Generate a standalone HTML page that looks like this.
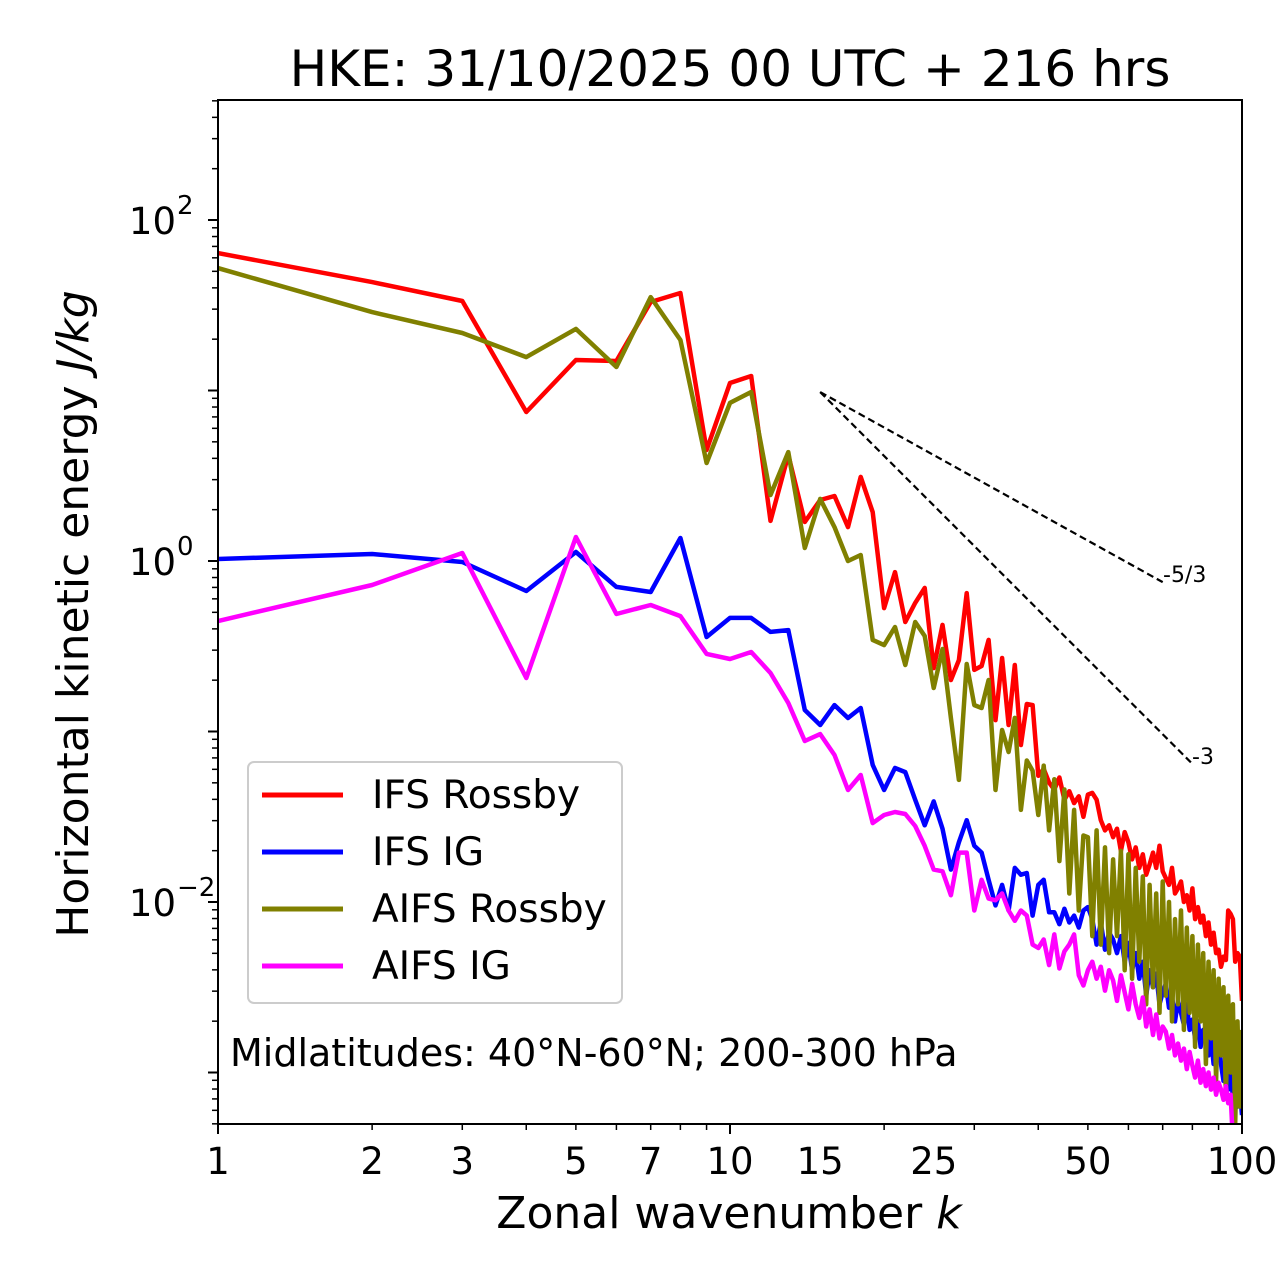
<!DOCTYPE html>
<html><head><meta charset="utf-8"><style>
body{margin:0;background:#fff;}
svg{display:block;font-family:"DejaVu Sans","Liberation Sans",sans-serif;}
</style></head><body>
<svg id="chart" width="1280" height="1288" viewBox="0 0 1280 1288" xmlns="http://www.w3.org/2000/svg">
<defs><clipPath id="plotclip"><rect x="218" y="100" width="1024" height="1024"/></clipPath></defs>
<rect width="1280" height="1288" fill="#fff"/>
<text x="730" y="86" font-size="50" text-anchor="middle">HKE: 31/10/2025 00 UTC + 216 hrs</text>
<g id="series" clip-path="url(#plotclip)"></g>
<g id="axes"></g>
<rect x="218" y="100" width="1024" height="1024" fill="none" stroke="#000" stroke-width="2"/>
<text transform="translate(88,614) rotate(-90)" font-size="44" text-anchor="middle">Horizontal kinetic energy <tspan font-style="italic">J/kg</tspan></text>
<text x="729" y="1228" font-size="44" text-anchor="middle">Zonal wavenumber <tspan font-style="italic">k</tspan></text>
<text x="1163" y="582" font-size="22">-5/3</text>
<text x="1192" y="764" font-size="22">-3</text>
<text x="230" y="1066" font-size="38">Midlatitudes: 40°N-60°N; 200-300 hPa</text>
<g>
<rect x="248" y="762" width="374" height="241" rx="6" fill="#fff" fill-opacity="0.8" stroke="#ccc" stroke-width="2"/>
<line x1="262" y1="795" x2="343" y2="795" stroke="#ff0000" stroke-width="5"/>
<text x="372" y="808" font-size="39">IFS Rossby</text>
<line x1="262" y1="852" x2="343" y2="852" stroke="#0000ff" stroke-width="5"/>
<text x="372" y="865" font-size="39">IFS IG</text>
<line x1="262" y1="909" x2="343" y2="909" stroke="#808000" stroke-width="5"/>
<text x="372" y="922" font-size="39">AIFS Rossby</text>
<line x1="262" y1="966" x2="343" y2="966" stroke="#ff00ff" stroke-width="5"/>
<text x="372" y="979" font-size="39">AIFS IG</text>
</g>
</svg>
<script>
// log10 of HKE (J/kg), wavenumbers k = 1..100
const ifsRossby = [1.806,1.636,1.525,0.874,1.179,1.173,1.519,1.572,0.651,1.044,1.085,0.235,0.622,0.229,0.358,0.381,0.199,0.493,0.287,-0.276,-0.065,-0.358,-0.246,-0.158,-0.628,-0.375,-0.698,-0.581,-0.188,-0.639,-0.616,-0.463,-0.933,-0.569,-0.962,-0.610,-1.079,-0.839,-0.845,-1.26,-1.22,-1.30,-1.34,-1.27,-1.40,-1.35,-1.42,-1.38,-1.50,-1.37,-1.36,-1.40,-1.52,-1.58,-1.55,-1.62,-1.57,-1.70,-1.59,-1.65,-1.75,-1.68,-1.80,-1.72,-1.84,-1.78,-1.71,-1.80,-1.67,-1.82,-1.86,-1.90,-1.80,-1.95,-1.92,-1.88,-2.00,-1.96,-2.05,-1.92,-2.10,-2.03,-2.12,-2.08,-2.20,-2.12,-2.25,-2.18,-2.30,-2.28,-2.38,-2.32,-2.34,-2.05,-2.07,-2.10,-2.35,-2.30,-2.32,-2.58];
const ifsIG = [0.012,0.041,-0.006,-0.176,0.053,-0.152,-0.182,0.135,-0.446,-0.334,-0.334,-0.416,-0.405,-0.874,-0.962,-0.845,-0.921,-0.862,-1.196,-1.343,-1.214,-1.238,-1.40,-1.55,-1.41,-1.57,-1.81,-1.65,-1.52,-1.67,-1.71,-1.87,-2.02,-1.90,-2.05,-1.80,-1.84,-1.83,-2.08,-1.90,-1.87,-2.06,-2.06,-2.13,-2.04,-2.12,-2.08,-2.15,-2.05,-2.03,-2.10,-2.25,-2.12,-2.28,-2.18,-2.22,-2.30,-2.20,-2.35,-2.24,-2.40,-2.30,-2.45,-2.35,-2.55,-2.40,-2.50,-2.42,-2.60,-2.53,-2.48,-2.62,-2.55,-2.70,-2.58,-2.65,-2.72,-2.60,-2.75,-2.69,-2.80,-2.70,-2.85,-2.75,-2.78,-2.90,-2.80,-2.95,-2.85,-2.81,-2.95,-3.05,-2.90,-3.10,-2.98,-3.15,-3.05,-3.20,-3.10,-3.25];
const aifsRossby = [1.718,1.460,1.337,1.196,1.361,1.138,1.548,1.296,0.575,0.927,0.991,0.387,0.639,0.076,0.364,0.199,0.0,0.035,-0.463,-0.493,-0.387,-0.610,-0.358,-0.440,-0.745,-0.516,-0.921,-1.284,-0.604,-0.845,-0.862,-0.698,-1.343,-0.991,-1.12,-0.92,-1.46,-1.17,-1.23,-1.49,-1.20,-1.58,-1.28,-1.76,-1.34,-1.95,-1.46,-2.05,-1.61,-1.62,-2.20,-1.58,-2.25,-1.68,-2.30,-1.75,-2.20,-1.70,-2.40,-1.72,-2.45,-1.80,-2.35,-1.85,-2.60,-1.90,-2.50,-1.95,-2.65,-1.88,-2.55,-2.00,-2.70,-2.10,-2.60,-2.05,-2.75,-2.15,-2.65,-2.20,-2.85,-2.25,-2.70,-2.30,-2.95,-2.35,-2.80,-2.40,-3.05,-2.45,-2.90,-2.50,-3.15,-2.55,-3.00,-2.60,-3.30,-2.70,-3.20,-2.75];
const aifsIG = [-0.352,-0.141,0.047,-0.686,0.141,-0.311,-0.258,-0.323,-0.545,-0.575,-0.534,-0.657,-0.833,-1.056,-1.015,-1.138,-1.343,-1.255,-1.537,-1.490,-1.472,-1.484,-1.554,-1.671,-1.81,-1.82,-1.96,-1.71,-1.71,-2.05,-1.87,-1.98,-1.99,-1.95,-2.05,-2.11,-2.05,-2.08,-2.25,-2.27,-2.22,-2.37,-2.19,-2.39,-2.29,-2.25,-2.19,-2.43,-2.49,-2.40,-2.35,-2.45,-2.38,-2.52,-2.40,-2.46,-2.58,-2.43,-2.53,-2.63,-2.48,-2.60,-2.68,-2.56,-2.73,-2.63,-2.78,-2.66,-2.80,-2.73,-2.76,-2.86,-2.78,-2.90,-2.83,-2.93,-2.86,-2.98,-2.88,-2.96,-3.03,-2.93,-3.06,-2.98,-3.08,-3.00,-3.10,-3.03,-3.13,-3.06,-3.10,-3.16,-3.08,-3.18,-3.13,-3.40,-3.60,-3.70,-3.80,-3.90];
const xTickLabels = [1,2,3,5,7,10,15,25,50,100];
const yMajorExps = [-2,0,2];
const refStartK = 15, refStartLog = 0.991;
const refSlopes = [-5/3,-3];
const refEndK = [70,80];

const X0=218,X1=1242,Y0=100,Y1=1124;
const xScale = k => X0 + (X1-X0)*Math.log10(k)/2;
const LTOP=2+120/170.5, LBOT=-2-222/170.5;
const yScale = L => Y0 + (LTOP-L)/(LTOP-LBOT)*(Y1-Y0);
const NS="http://www.w3.org/2000/svg";
const series=document.getElementById('series'), axes=document.getElementById('axes');
function mk(tag,attrs,parent){const e=document.createElementNS(NS,tag);for(const a in attrs)e.setAttribute(a,attrs[a]);parent.appendChild(e);return e;}

const defs=[[ifsRossby,'#ff0000','ifs-rossby-line'],[ifsIG,'#0000ff','ifs-ig-line'],[aifsRossby,'#808000','aifs-rossby-line'],[aifsIG,'#ff00ff','aifs-ig-line']];
for(const [arr,col,name] of defs){
  const pts=arr.map((v,i)=>xScale(i+1).toFixed(1)+','+yScale(v).toFixed(1)).join(' ');
  const p=mk('polyline',{points:pts,fill:'none',stroke:col,'stroke-width':4.5,'stroke-linejoin':'round'},series);
  
  
}
refSlopes.forEach((s,i)=>{
  const endL=refStartLog+s*Math.log10(refEndK[i]/refStartK);
  const l=mk('line',{x1:xScale(refStartK),y1:yScale(refStartLog),x2:xScale(refEndK[i]),y2:yScale(endL),stroke:'#000','stroke-width':2.2,'stroke-dasharray':'7,4'},series);
  
  
});
for(let d=0;d<2;d++)for(let m=1;m<10;m++){const k=m*Math.pow(10,d);const x=xScale(k);const major=m===1;
  mk('line',{x1:x,y1:Y1,x2:x,y2:Y1+(major?10:6),stroke:'#000','stroke-width':major?2:1.5},axes);}
mk('line',{x1:X1,y1:Y1,x2:X1,y2:Y1+10,stroke:'#000','stroke-width':2},axes);
xTickLabels.forEach(k=>{const t=mk('text',{x:xScale(k),y:1174,'font-size':37,'text-anchor':'middle'},axes);t.textContent=k;
  
  });
for(let e=-4;e<=2;e++)for(let m=1;m<10;m++){const L=e+Math.log10(m);if(L<LBOT||L>LTOP)continue;const y=yScale(L);const major=m===1;
  mk('line',{x1:X0,y1:y,x2:X0-(major?10:6),y2:y,stroke:'#000','stroke-width':major?2:1.5},axes);}
yMajorExps.forEach(e=>{const y=yScale(e);const t=mk('text',{x:176,y:y+14,'font-size':37,'text-anchor':'end'},axes);
  t.textContent='10';
  
  const s=mk('text',{x:177,y:y-6,'font-size':26,'text-anchor':'start'},axes);s.textContent=e<0?'\u2212'+(-e):String(e);
  
  });
</script>
</body></html>
